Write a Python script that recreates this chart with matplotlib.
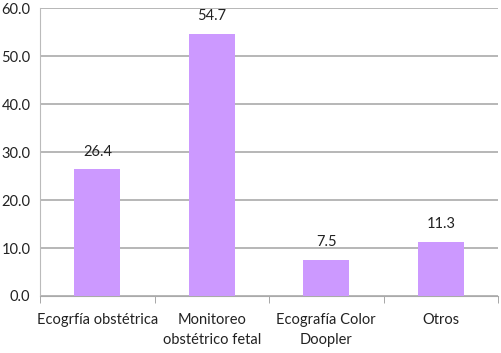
import matplotlib.pyplot as plt
import numpy as np

categorias = ['Ecogrfía obstétrica', 'Monitoreo\nobstétrico fetal', 'Ecografía Color\nDoopler', 'Otros']
valores = [26.4, 54.7, 7.5, 11.3]
yticks = [0, 10, 20, 30, 40, 50, 60]

plt.rcParams['font.family'] = ['Lato', 'DejaVu Sans']

fig = plt.figure(figsize=(5.02, 3.53), dpi=100)
ax = fig.add_axes([0.08, 0.1615, 0.912, 0.815])

x = np.arange(len(categorias))
ax.bar(x, valores, width=0.4, color='#CC99FF', zorder=3)
for xi, v in zip(x, valores):
    ax.text(xi, v + 2.2, f'{v:.1f}', ha='center', va='bottom', fontsize=10.5, color='#222222')

ax.set_xlim(-0.5, len(categorias) - 0.5)
ax.set_ylim(0, 60)
ax.set_yticks(yticks)
ax.set_yticklabels([f'{t:.1f}' for t in yticks], fontsize=10.5, color='#222222')
ax.set_xticks(x)
ax.set_xticklabels(categorias, fontsize=10.5, color='#222222', linespacing=1.6)
ax.set_xticks(np.arange(-0.5, len(categorias)), minor=True)
ax.tick_params(axis='x', which='major', length=0, pad=12)
ax.tick_params(axis='x', which='minor', length=5, color='#999999', direction='out')
ax.tick_params(axis='y', length=0, pad=7)
ax.yaxis.grid(True, color='#aaaaaa', linewidth=1.2, zorder=0)
for s in ['top', 'right']:
    ax.spines[s].set_visible(False)
ax.spines['left'].set_color('#bbbbbb')
ax.spines['bottom'].set_color('#aaaaaa')

fig.savefig('out.png', dpi=100)
